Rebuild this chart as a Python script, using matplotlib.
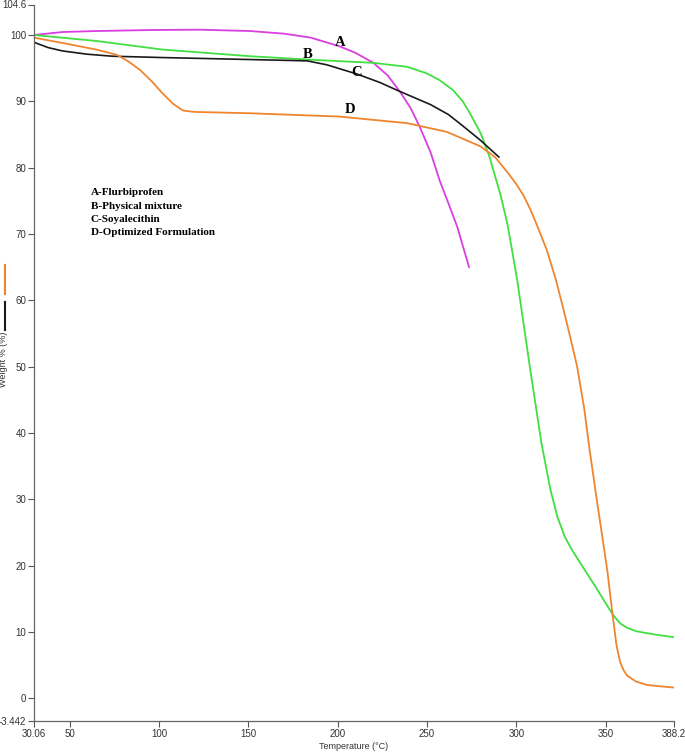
import matplotlib.pyplot as plt
from matplotlib.lines import Line2D

# A - Flurbiprofen
temp_a = [30.06, 46, 65, 95, 123, 151, 170, 185, 201, 210, 220, 228, 235, 241, 246, 252, 257, 262, 267, 273.5]
wt_a = [100.0, 100.45, 100.6, 100.75, 100.8, 100.6, 100.2, 99.6, 98.3, 97.3, 95.8, 93.9, 91.4, 88.9, 86.1, 82.3, 78.1, 74.6, 71.0, 65.0]

# B - Physical mixture
temp_b = [30.06, 65, 102, 151, 183, 220, 239, 250, 257, 264.5, 270, 274, 280, 285, 291, 295, 300.5, 307.5,
          314, 319, 323, 327, 331, 335.5, 340, 345, 350, 354, 358, 362, 367, 373, 380, 388.2]
wt_b = [100.0, 99.1, 97.8, 96.8, 96.3, 95.8, 95.2, 94.2, 93.2, 91.7, 90.0, 88.2, 85.2, 81.6, 76.0, 71.5, 63.0, 50.0,
        38.5, 31.5, 27.3, 24.4, 22.4, 20.5, 18.6, 16.5, 14.3, 12.6, 11.3, 10.6, 10.1, 9.8, 9.5, 9.2]

# C - Soyalecithin
temp_c = [30.06, 38, 46, 60, 74, 102, 151, 183, 194, 211, 224, 233, 252, 262, 270, 280, 290.2]
wt_c = [98.9, 98.1, 97.6, 97.1, 96.8, 96.6, 96.3, 96.1, 95.5, 94.1, 92.8, 91.7, 89.5, 88.0, 86.3, 84.1, 81.6]

# D - Optimized formulation
temp_d = [30.06, 46, 65, 76.5, 83, 89.5, 96, 102, 108, 113.5, 120, 151, 201, 239, 261, 280, 288, 295, 300, 304, 308,
          312, 317, 322, 326, 330, 334, 338, 341, 345, 348, 351, 354, 356, 358, 360, 362, 367, 373, 380, 388.2]
wt_d = [99.6, 98.8, 97.8, 97.0, 96.0, 94.7, 93.0, 91.2, 89.6, 88.6, 88.4, 88.2, 87.7, 86.7, 85.4, 83.2, 81.6, 79.3,
        77.5, 75.8, 73.6, 71.0, 67.6, 63.2, 59.0, 54.6, 50.0, 43.6, 37.4, 29.9, 24.5, 19.0, 12.2, 8.0, 5.5, 4.2,
        3.4, 2.5, 2.0, 1.8, 1.6]

curve_labels = ["A", "B", "C", "D"]
label_pos = [(201.3, 98.9), (183.4, 97.1), (210.8, 94.4), (206.9, 88.7)]
legend_lines = ["A-Flurbiprofen", "B-Physical mixture", "C-Soyalecithin", "D-Optimized Formulation"]

xticks = [30.06, 50, 100, 150, 200, 250, 300, 350, 388.2]
xticklabels = ["30.06", "50", "100", "150", "200", "250", "300", "350", "388.2"]
yticks = [-3.442, 0, 10, 20, 30, 40, 50, 60, 70, 80, 90, 100, 104.6]
yticklabels = ["-3.442", "0", "10", "20", "30", "40", "50", "60", "70", "80", "90", "100", "104.6"]


def main():
    plt.rcParams['font.family'] = ['Liberation Sans', 'DejaVu Sans']
    fig = plt.figure(figsize=(6.85, 7.52), dpi=100)
    ax = fig.add_axes([34 / 685, 31 / 752, 640 / 685, 716.5 / 752])

    ax.plot(temp_a, wt_a, color="#d93fe0", lw=1.3)
    ax.plot(temp_b, wt_b, color="#3fe03f", lw=1.3)
    ax.plot(temp_c, wt_c, color="#1a1a1a", lw=1.2)
    ax.plot(temp_d, wt_d, color="#f0852d", lw=1.3)

    for lab, (x, y) in zip(curve_labels, label_pos):
        ax.text(x, y, lab, family="Liberation Serif", fontweight="bold", fontsize=10.5,
                ha="center", va="center")

    for i, t in enumerate(legend_lines):
        ax.text(0.089, 0.737 - i * 0.0183, t, transform=ax.transAxes, family="Liberation Serif",
                fontweight="bold", fontsize=8, ha="left", va="center")

    ax.set_xlim(30.06, 388.2)
    ax.set_ylim(-3.442, 104.6)
    ax.set_xticks(xticks)
    ax.set_xticklabels(xticklabels)
    ax.set_yticks(yticks)
    ax.set_yticklabels(yticklabels)
    ax.tick_params(labelsize=7, colors="#555555", labelcolor="#333333", length=4, width=0.8, pad=1.5)

    for s in ["top", "right"]:
        ax.spines[s].set_visible(False)
    for s in ["left", "bottom"]:
        ax.spines[s].set_color("#666666")
        ax.spines[s].set_linewidth(0.9)

    ax.set_xlabel("Temperature (°C)", fontsize=6.5, color="#333333")
    ax.xaxis.set_label_coords(0.5, -0.029)
    ax.set_ylabel("Weight % (%)", fontsize=6.5, color="#333333")
    ax.yaxis.set_label_coords(-0.04, 0.505)

    # little line samples beside the y label
    fig.add_artist(Line2D([5 / 685, 5 / 685], [1 - 265 / 752, 1 - 294 / 752], color="#f0852d", lw=1.5))
    fig.add_artist(Line2D([5 / 685, 5 / 685], [1 - 302 / 752, 1 - 330 / 752], color="#1a1a1a", lw=1.5))

    plt.savefig("out.png", dpi=100)


if __name__ == "__main__":
    main()
